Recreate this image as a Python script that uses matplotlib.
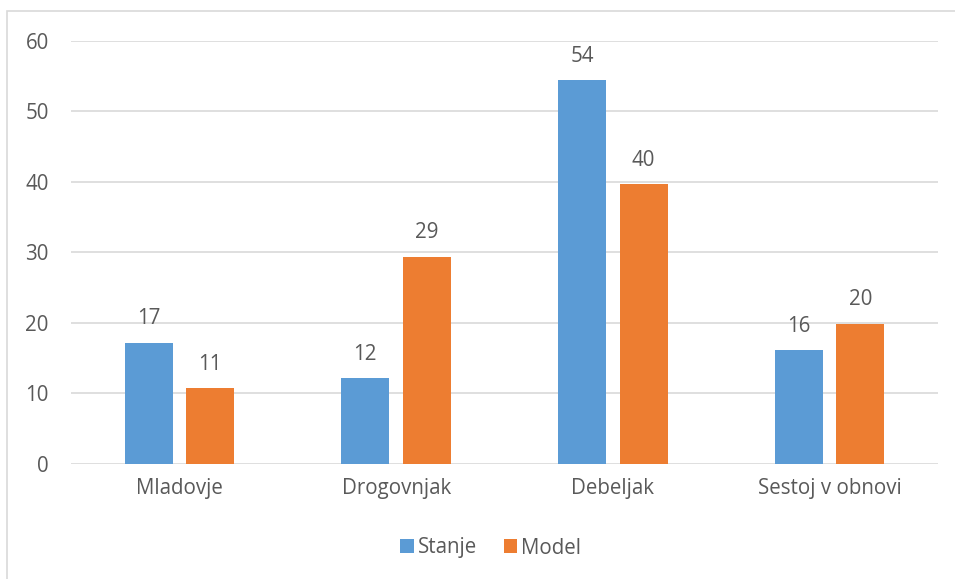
import matplotlib
matplotlib.use("Agg")
import matplotlib.pyplot as plt
import numpy as np
from matplotlib.patches import Rectangle

categories = ["Mladovje", "Drogovnjak", "Debeljak", "Sestoj v obnovi"]
stanje = [17.2, 12.2, 54.4, 16.1]
model = [10.8, 29.4, 39.7, 19.9]
yticks = [0, 10, 20, 30, 40, 50, 60]

blue = "#5B9BD5"
orange = "#ED7D31"
text_col = "#595959"
grid_col = "#D9D9D9"

plt.rcParams["font.family"] = ["Open Sans", "DejaVu Sans"]
fs = 14.8

fig = plt.figure(figsize=(9.55, 5.79), dpi=100)
ax = fig.add_axes([71 / 955, 1 - 464 / 579, (938 - 71) / 955, (464 - 40.7) / 579])

x = np.arange(len(categories))
w = 0.222
off = 0.142
b1 = ax.bar(x - off, stanje, w, color=blue, label="Stanje", zorder=3)
b2 = ax.bar(x + off, model, w, color=orange, label="Model", zorder=3)

for bars, vals in ((b1, stanje), (b2, model)):
    for rect, v in zip(bars, vals):
        ax.annotate(f"{v:.0f}", (rect.get_x() + rect.get_width() / 2, v),
                    xytext=(0, 9.5), textcoords="offset points",
                    ha="center", va="bottom", fontsize=fs, color=text_col)

ax.set_xlim(-0.5, len(categories) - 0.5)
ax.set_ylim(0, 60)
ax.set_yticks(yticks)
ax.set_yticklabels([str(t) for t in yticks])
ax.set_xticks(x)
ax.set_xticklabels(categories)
ax.tick_params(axis="both", length=0, labelsize=fs, colors=text_col)
ax.tick_params(axis="y", pad=16)
ax.tick_params(axis="x", pad=10)
ax.grid(axis="y", color=grid_col, linewidth=1.2, zorder=0)
for s in ax.spines.values():
    s.set_visible(False)

leg = fig.legend(handles=[b1, b2], labels=["Stanje", "Model"], loc="center",
                 bbox_to_anchor=(0.514, 1 - 548 / 579), ncol=2, frameon=False,
                 fontsize=fs, handlelength=0.65, handleheight=0.65,
                 handletextpad=0.2, columnspacing=1.3)
for t in leg.get_texts():
    t.set_color(text_col)

# chart-area outline
fig.patches.append(Rectangle((7 / 955, -0.1), 1.2, 1 - 11 / 579 + 0.1,
                             transform=fig.transFigure, fill=False,
                             edgecolor=grid_col, linewidth=1.2))

fig.savefig("out.png", dpi=100)
